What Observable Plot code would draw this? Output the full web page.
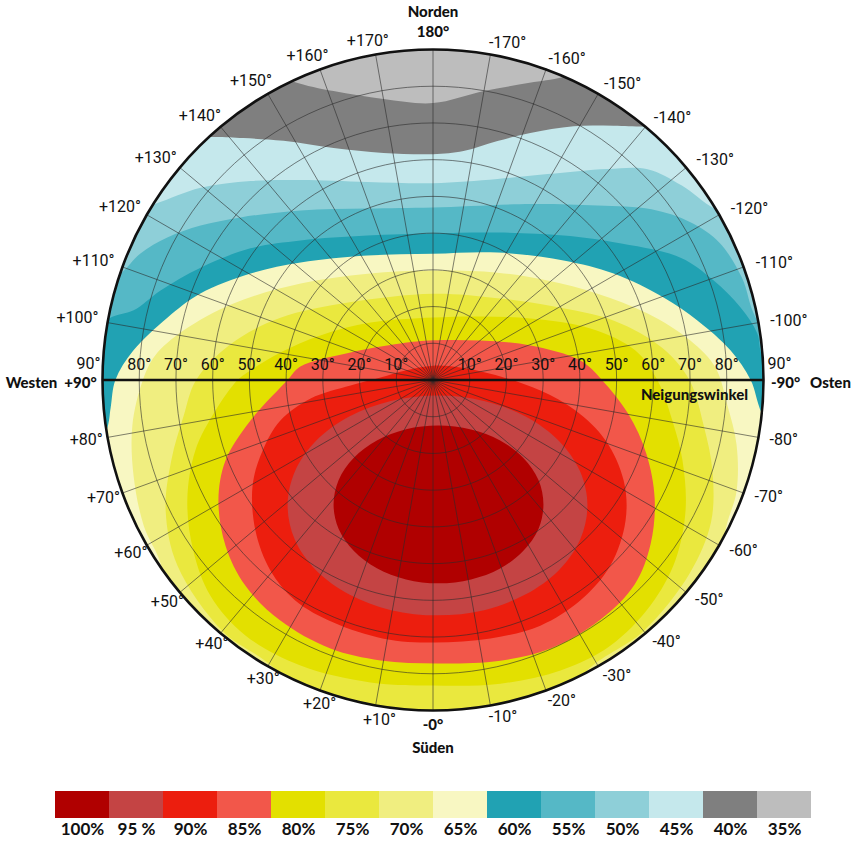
<!DOCTYPE html>
<html>
<head>
<meta charset="utf-8">
<script src="https://cdn.jsdelivr.net/npm/d3@7"></script>
<script src="https://cdn.jsdelivr.net/npm/@observablehq/plot@0.6"></script>
<style>
  html, body { margin: 0; padding: 0; background: #fff; }
  #chart svg { display: block; }
</style>
</head>
<body>
<div id="chart"></div>
<script>
// ================= DATA =================
// yield levels (%) and their colours
const levels = [35, 40, 45, 50, 55, 60, 65, 70, 75, 80, 85, 90, 95, 100];
const levelColors = ["#BDBDBD","#7F7F7F","#C5E8EC","#8ECFD8","#55B8C6","#21A2B3","#F8F7C2","#F0EE80","#EAE83E","#E3E000","#F2574A","#EC1E0E","#C44444","#B00000"];
const legendLabels = ["100%","95 %","90%","85%","80%","75%","70%","65%","60%","55%","50%","45%","40%","35%"];
const legendColors = ["#B00000","#C44444","#EC1E0E","#F2574A","#E3E000","#EAE83E","#F0EE80","#F8F7C2","#21A2B3","#55B8C6","#8ECFD8","#C5E8EC","#7F7F7F","#BDBDBD"];

// axis ticks
const tiltTicks = [10, 20, 30, 40, 50, 60, 70, 80];
const ringTilts = [10, 20, 30, 40, 50, 60, 70, 80];
const azimuthTicks = [10,20,30,40,50,60,70,80,100,110,120,130,140,150,160,170,
                      -10,-20,-30,-40,-50,-60,-70,-80,-100,-110,-120,-130,-140,-150,-160,-170];
const spokeAzimuths = [-170,-160,-150,-140,-130,-120,-110,-100,-90,-80,-70,-60,-50,-40,-30,-20,-10,
                       0,10,20,30,40,50,60,70,80,90,100,110,120,130,140,150,160,170,180];

// boundaries of the regions "yield >= level": [azimuth° (+ = west, 0 = south), tilt°]
// (points beyond 90° lie outside the diagram and are clipped)
const b35 = [[-180,112],[-120,112],[-60,112],[0,112],[60,112],[120,112]];
const b40 = [[-180,75.4],[-170,79.9],[-162,85.1],[-156.6,90],[-145,112],[-110,112],[-70,112],[-30,112],[0,112],[30,112],[70,112],[110,112],[145,112],[154.7,90],[161,83.2],[170,77.7]];
const b45 = [[-180,61.5],[-172.4,62.9],[-164.9,67.4],[-158.5,72.3],[-151,79],[-144.6,84.9],[-140,90],[-128,112],[-90,112],[-50,112],[0,112],[50,112],[90,112],[125,112],[137.3,90],[141.9,83.7],[148,76.8],[156.8,68.7],[167.7,63.3]];
const b50 = [[-180,53.6],[-162.2,57.5],[-150.9,64.2],[-140.4,74.6],[-134.5,81.9],[-128,86],[-121,90],[-108,112],[-70,112],[-30,112],[0,112],[30,112],[70,112],[110,112],[122,90],[129.6,82.1],[137.5,73.5],[146.5,65.3],[161.7,56.8]];
const b55 = [[-180,47],[-151,54.8],[-136.7,65.3],[-128,75.5],[-121.5,82.2],[-115.6,86.5],[-108.4,88.6],[-100,90],[-86,112],[-50,112],[0,112],[50,112],[96,112],[108.7,90],[113.4,86.8],[118.2,82.1],[123.6,76],[130.2,68.6],[142,58.6],[159.1,50]];
const b60 = [[-180,39.9],[-156.4,43.8],[-137.9,53],[-127.3,61.9],[-116.3,75.2],[-109.5,81.1],[-103.3,86],[-98.2,89.2],[-94,90],[-80,112],[-40,112],[0,112],[40,112],[86,112],[100.6,90],[103.1,83.7],[108.2,78.1],[115.8,70.3],[125.8,61.3],[136.5,52.4],[155.6,43.2]];
const b65 = [[-180,34.4],[-153.2,38.9],[-132.5,48.2],[-120.5,57.1],[-109.7,66.7],[-102.7,73.8],[-95.7,81.4],[-90,86.5],[-84.2,90],[-70,112],[-30,112],[0,112],[30,112],[68,112],[81.2,90],[85.1,88.1],[90,86.5],[95.6,82],[103.2,74.3],[110.4,67.6],[120.3,57.5],[131.6,48.2],[152.2,38.3]];
const b70 = [[-180,29.8],[-149,34.1],[-131,41.3],[-117.7,50.6],[-107.2,61.2],[-98.7,70.9],[-92.5,77],[-85,80.5],[-78,84.5],[-70,88],[-62,90],[-45,112],[0,112],[40,112],[55,90],[63.3,88.2],[72.3,85.6],[81.4,82.8],[90,79],[95,76],[101.2,69.3],[111,58.2],[126.1,44.6],[148.4,34]];
const b75 = [[-180,23.5],[-143,28],[-122,38],[-108,52],[-98,63],[-90,69.8],[-80,75],[-72,80],[-63,85],[-53,87.5],[-40,89.2],[-27,90],[-12,112],[12,112],[28,90],[40,89.2],[54,86],[64,81],[73,74.5],[82,68.5],[90,64.5],[100,56],[112,45],[133,31]];
const b80 = [[180,17],[-143.2,21.6],[-122.2,31.4],[-108.1,45.1],[-98.3,55.7],[-90,61.1],[-80.4,66.1],[-72.1,71.4],[-62.7,77.4],[-53.3,82.3],[-44,85.3],[-33.7,87],[-23.7,86.4],[-12.5,84.7],[0,83.2],[11.7,84.1],[24.9,85.7],[36.3,86.3],[45.9,84.4],[54.6,80.1],[63.9,74.5],[73.5,67.5],[82,59.8],[90,53.2],[93,49.8],[100.2,42.2],[111.6,33],[132.6,23.1]];
const b85 = [[180,10.8],[-129.7,16.8],[-109.5,28.2],[-97.5,40.5],[-90,46],[-80.1,54],[-70.9,61.5],[-61.8,68.5],[-53,74.2],[-44.6,78.2],[-34.9,79.6],[-23.6,79.8],[-13.5,78.6],[-0.9,77.2],[10.6,77.7],[20.9,78.3],[32.4,77.6],[42.4,75.8],[51.4,72.3],[60.7,67],[68.8,60.6],[77.5,50.9],[90,39.6],[95.8,36.3],[108.4,23.7],[138.3,13.3]];
const b90 = [[180,3.9],[-114.4,8.2],[-93,18.4],[-84.4,29.4],[-77.9,39.7],[-70.7,49.8],[-62.2,58.7],[-53.9,64.9],[-43.7,69.9],[-33.8,72.2],[-23.6,73],[-12.5,72.1],[0,71.5],[10.8,71.7],[22.3,71.4],[32,70.8],[40.5,68.2],[49.7,63.4],[59.7,56.9],[67.5,50.2],[75.1,43],[81.4,33.7],[86.2,22.5],[92.7,14.3],[109.1,7.9]];
const b95 = [[-16.2,4.4],[-67.7,15],[-68.5,27.1],[-64.2,38.1],[-58.1,47.2],[-50.9,54.2],[-42.7,59.1],[-33.5,62.1],[-23.4,63.6],[-12.5,64.2],[-1.1,64.1],[10.3,63.7],[21.3,62.7],[31.6,60.8],[40.9,57.5],[49.2,52.3],[56.5,45.1],[62.5,35.9],[66.4,24.9],[63.5,12.8]];
const b100 = [[-6.9,12.5],[-37.5,17],[-48,24.6],[-49.2,32.5],[-46.5,39.6],[-41.6,45.3],[-35.3,49.7],[-27.9,52.6],[-19.6,54.5],[-10.8,55.3],[-1.5,55.4],[7.7,54.8],[16.6,53.5],[24.9,51.3],[32.4,48],[38.6,43.4],[43.3,37.5],[45.5,30.3],[42.8,22.5],[28.6,15.3]];
const boundaries = [b35, b40, b45, b50, b55, b60, b65, b70, b75, b80, b85, b90, b95, b100];

// ================= GEOMETRY HELPERS =================
const rad = Math.PI / 180;
const R_PX = 330.5;             // radius of the 90° circle in px
const CX = 432.5, CY = 379.5;   // centre in px
const k = R_PX / 90;            // px per degree of tilt
const px = (az, t) => -t * Math.sin(az * rad);   // east positive
const py = (az, t) => -t * Math.cos(az * rad);   // north positive

const ctx = document.createElement("canvas").getContext("2d");
const FONT = "Roboto";
ctx.font = `16px ${FONT}`;

// outer azimuth labels (placed just outside the circle, in screen px offsets)
const R_LAB = 336 / k;
const azLabelRows = azimuthTicks.map(az => {
  const text = (az > 0 ? "+" : "-") + Math.abs(az) + "°";
  const w = ctx.measureText(text).width;
  const s = Math.sin(az * rad), c = Math.cos(az * rad);
  let ox = -s * (w / 2 + 1), oy = c * 6;           // screen px
  if (az > 0) { if (c > 0) { ox += 8 * c; oy += 3 * c; } else { ox -= 3; oy -= 2.5; } }
  else { ox += c < 0 ? 4 - 9 * c : 4 + 5 * c; }
  return {text, x: px(az, R_LAB) + ox / k, y: py(az, R_LAB) - oy / k};
});

const ringRows = ringTilts.flatMap(t => spokeAzimuths.map(az => ({t, az})));
const outerRows = spokeAzimuths.map(az => ({t: 90, az}));

const bandMarks = levels.map((L, i) =>
  Plot.line(boundaries[i], {
    x: d => px(d[0], d[1]), y: d => py(d[0], d[1]),
    curve: "catmull-rom-closed",
    fill: levelColors[i], stroke: "none",
    ariaDescription: "band"
  })
);

const boldStyle = {fontFamily: "Lato", fontWeight: 900, fontSize: 15, fill: "#111"};

const main = Plot.plot({
  width: 856, height: 785,
  margin: 0,
  x: {domain: [-90, 90], range: [CX - R_PX, CX + R_PX], axis: null},
  y: {domain: [-90, 90], range: [CY + R_PX, CY - R_PX], axis: null},
  style: {background: "#fff", fontFamily: FONT},
  marks: [
    ...bandMarks,
    // grid rings
    Plot.line(ringRows, {x: d => px(d.az, d.t), y: d => py(d.az, d.t), z: "t",
      curve: "catmull-rom-closed", stroke: "#2b2b2b", strokeWidth: 0.7, strokeOpacity: 0.85}),
    // spokes
    Plot.link(spokeAzimuths, {x1: 0, y1: 0, x2: az => px(az, 90), y2: az => py(az, 90),
      stroke: "#2b2b2b", strokeWidth: 0.7, strokeOpacity: 0.85}),
    // east-west line
    Plot.link([0], {x1: -90, y1: 0, x2: 90, y2: 0, stroke: "#111", strokeWidth: 2.4}),
    // outer circle
    Plot.line(outerRows, {x: d => px(d.az, d.t), y: d => py(d.az, d.t),
      curve: "catmull-rom-closed", stroke: "#111", strokeWidth: 2.6}),
    // tilt labels along the east-west line
    Plot.text(tiltTicks, {x: t => -t, y: 15 / k, text: t => t + "°", fontSize: 16, fill: "#111"}),
    Plot.text(tiltTicks, {x: t => t, y: 15 / k, text: t => t + "°", fontSize: 16, fill: "#111"}),
    Plot.text(["90°"], {x: -90 - 2 / k, y: 16.5 / k, text: d => d, textAnchor: "end", fontSize: 16, fill: "#111"}),
    Plot.text(["90°"], {x: 90 + 4 / k, y: 16.5 / k, text: d => d, textAnchor: "start", fontSize: 16, fill: "#111"}),
    // azimuth labels
    Plot.text(azLabelRows, {x: "x", y: "y", text: "text", fontSize: 16, fill: "#111"}),
    // cardinal labels
    Plot.text(["180°"], {x: 0, y: 348 / k, text: d => d, ...boldStyle}),
    Plot.text(["Norden"], {x: 0, y: 368 / k, text: d => d, ...boldStyle}),
    Plot.text(["-0°"], {x: 0, y: -345.5 / k, text: d => d, ...boldStyle}),
    Plot.text(["Süden"], {x: 0, y: -368 / k, text: d => d, ...boldStyle}),
    Plot.text(["+90°"], {x: -352.5 / k, y: -3 / k, text: d => d, ...boldStyle}),
    Plot.text(["Westen"], {x: -401.5 / k, y: -3 / k, text: d => d, ...boldStyle}),
    Plot.text(["-90°"], {x: 352.5 / k, y: -3 / k, text: d => d, ...boldStyle}),
    Plot.text(["Osten"], {x: 397.5 / k, y: -3 / k, text: d => d, ...boldStyle}),
    Plot.text(["Neigungswinkel"], {x: 261.5 / k, y: -15.5 / k, text: d => d, ...boldStyle})
  ]
});

// clip the coloured bands to the 90° circle
{
  const ns = "http://www.w3.org/2000/svg";
  const xs = main.scale("x"), ys = main.scale("y");
  const defs = document.createElementNS(ns, "defs");
  const cp = document.createElementNS(ns, "clipPath");
  cp.setAttribute("id", "disk");
  const circ = document.createElementNS(ns, "circle");
  circ.setAttribute("cx", xs.apply(0));
  circ.setAttribute("cy", ys.apply(0));
  circ.setAttribute("r", xs.apply(90) - xs.apply(0));
  cp.appendChild(circ);
  defs.appendChild(cp);
  main.insertBefore(defs, main.firstChild);
  main.querySelectorAll('g[aria-description="band"]').forEach(g => g.setAttribute("clip-path", "url(#disk)"));
}

const legendData = legendLabels.map((label, i) => ({label, color: legendColors[i]}));
const legend = Plot.plot({
  width: 856, height: 57,
  marginTop: 6, marginBottom: 24, marginLeft: 0, marginRight: 0,
  x: {domain: legendLabels, range: [52, 813], padding: 0, axis: null},
  color: {type: "identity"},
  style: {background: "#fff"},
  marks: [
    Plot.cell(legendData, {x: "label", fill: "color", inset: 0}),
    Plot.text(legendData, {x: "label", text: "label", frameAnchor: "bottom", dy: 16,
      fontFamily: "Lato", fontWeight: 700, fontSize: 17, fill: "#111"})
  ]
});

document.getElementById("chart").append(main, legend);
</script>
</body>
</html>
